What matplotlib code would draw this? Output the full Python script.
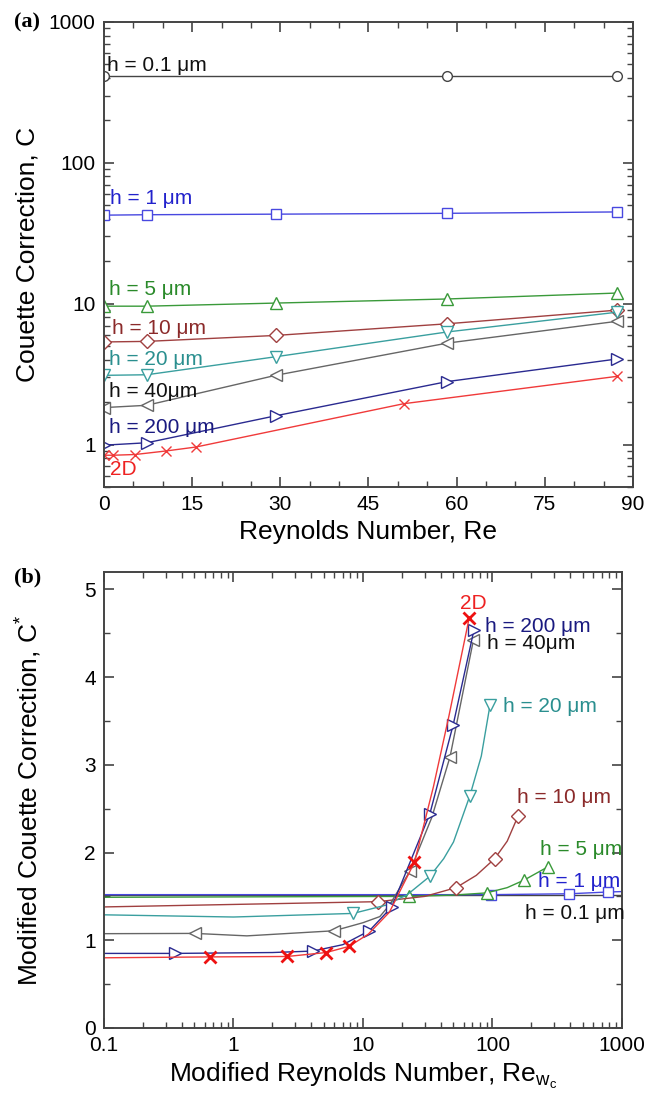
import matplotlib
matplotlib.use("Agg")
import matplotlib.pyplot as plt
from matplotlib.ticker import FixedLocator, MultipleLocator, LogLocator, NullFormatter

plt.rcParams["font.family"] = ["Liberation Sans", "DejaVu Sans"]
plt.rcParams["mathtext.fontset"] = "custom"
plt.rcParams["mathtext.rm"] = "Liberation Sans"
plt.rcParams["mathtext.it"] = "Liberation Sans"

# (a) Couette correction vs Reynolds number
re_a = [0, 7.3, 29.2, 58.4, 87.3]
re_h01 = [0, 58.4, 87.3]
c_h01 = [410, 410, 410]
c_h1 = [42.5, 42.8, 43.2, 43.8, 44.8]
c_h5 = [9.6, 9.6, 10.1, 10.8, 11.9]
c_h10 = [5.35, 5.4, 5.95, 7.2, 9.0]
c_h20 = [3.1, 3.13, 4.2, 6.3, 8.7]
c_h40 = [1.83, 1.9, 3.1, 5.25, 7.5]
c_h200 = [0.99, 1.03, 1.6, 2.8, 4.05]
re_2d = [0, 1.6, 5.3, 10.5, 15.6, 51, 87.3]
c_2d = [0.84, 0.84, 0.85, 0.9, 0.96, 1.95, 3.05]

# (b) modified correction vs modified Reynolds number (traced curve + marker indices)
rew_2d = [0.1, 0.66, 2.6, 5.2, 7.8, 11, 16, 25, 35, 46, 66]
cs_2d = [0.80, 0.81, 0.815, 0.86, 0.93, 1.07, 1.32, 1.89, 2.75, 3.55, 4.67]
mk_2d = [1, 2, 3, 4, 7, 10]
rew_h200 = [0.1, 0.353, 2, 4.13, 7, 11.2, 16.7, 32.9, 49.8, 72]
cs_h200 = [0.85, 0.85, 0.86, 0.877, 0.95, 1.108, 1.38, 2.445, 3.46, 4.54]
mk_h200 = [1, 3, 5, 6, 7, 8, 9]
rew_h40 = [0.1, 0.505, 1.27, 5.97, 10, 13.5, 16, 23.1, 34, 47, 71.2]
cs_h40 = [1.075, 1.078, 1.05, 1.108, 1.2, 1.27, 1.40, 1.79, 2.4, 3.09, 4.42]
mk_h40 = [1, 3, 7, 9, 10]
rew_h20 = [0.1, 1, 8.4, 15, 22, 32.9, 42, 50, 67, 82, 95.7]
cs_h20 = [1.29, 1.265, 1.306, 1.40, 1.52, 1.73, 1.93, 2.12, 2.65, 3.1, 3.68]
mk_h20 = [2, 5, 8, 10]
rew_h10 = [0.1, 13.1, 30, 52.4, 75, 104, 130, 158]
cs_h10 = [1.38, 1.44, 1.50, 1.60, 1.74, 1.93, 2.13, 2.42]
mk_h10 = [1, 3, 5, 7]
rew_h5 = [0.1, 22.6, 50, 90, 130, 175, 270]
cs_h5 = [1.49, 1.50, 1.515, 1.54, 1.6, 1.685, 1.84]
mk_h5 = [1, 3, 5, 6]
rew_h1 = [0.1, 97, 392, 774, 1000]
cs_h1 = [1.52, 1.52, 1.53, 1.55, 1.555]
mk_h1 = [1, 2, 3]
rew_h01 = [0.1, 1000]
cs_h01 = [1.515, 1.515]

COL = {
    "h01": "#444444", "h1": "#4848e0", "h5": "#3a9a3a", "h10": "#a04040",
    "h20": "#3a9f9f", "h40": "#666666", "h200": "#2a2a90", "2d": "#f03a3a",
}
TXT = {
    "h01": "#111111", "h1": "#2222cc", "h5": "#2a8a2a", "h10": "#8b2a2a",
    "h20": "#2a8f8f", "h40": "#111111", "h200": "#1a1a80", "2d": "#ee2222",
}
FS = 15


def style_axes(ax):
    for sp in ax.spines.values():
        sp.set_color("#444444")
        sp.set_linewidth(1.4)
    ax.tick_params(which="both", direction="in", top=True, right=True,
                   colors="#444444", labelcolor="black", labelsize=FS, pad=6)
    ax.tick_params(which="major", length=7, width=1.2)
    ax.tick_params(which="minor", length=4, width=1.0)


fig = plt.figure(figsize=(6.56, 11.02), dpi=100)

# ---------------- panel (a) ----------------
ax = fig.add_axes([0.1585, 0.5581, 0.8064, 0.422])
ax.set_yscale("log")
ax.set_xlim(0, 90)
ax.set_ylim(0.5, 1000)

mkw = dict(mfc="white", lw=1.0, mew=1.0)
ax.plot(re_h01, c_h01, "-o", color=COL["h01"], ms=7, **mkw)
ax.plot(re_a, c_h1, "-s", color=COL["h1"], ms=6.5, **mkw)
ax.plot(re_a, c_h5, "-^", color=COL["h5"], ms=8, **mkw)
ax.plot(re_a, c_h10, "-D", color=COL["h10"], ms=7, **mkw)
ax.plot(re_a, c_h20, "-v", color=COL["h20"], ms=8, **mkw)
ax.plot(re_a, c_h40, "-<", color=COL["h40"], ms=8, **mkw)
ax.plot(re_a, c_h200, "->", color=COL["h200"], ms=8, **mkw)
ax.plot(re_2d, c_2d, "-x", color=COL["2d"], ms=7, lw=1.0, mew=1.0)

ax.xaxis.set_major_locator(MultipleLocator(15))
ax.xaxis.set_minor_locator(MultipleLocator(5))
ax.yaxis.set_major_locator(FixedLocator([1, 10, 100, 1000]))
ax.set_yticklabels(["1", "10", "100", "1000"])
ax.yaxis.set_minor_locator(LogLocator(base=10, subs=range(2, 10)))
ax.yaxis.set_minor_formatter(NullFormatter())
style_axes(ax)
ax.set_xlabel("Reynolds Number, Re", fontsize=19, labelpad=4)
ax.set_ylabel("Couette Correction, C", fontsize=19, labelpad=7)

labels_a = [
    (0.5, 490, "h = 0.1 \u03bcm", "h01"),
    (1.0, 55.5, "h = 1 \u03bcm", "h1"),
    (0.85, 12.6, "h = 5 \u03bcm", "h5"),
    (1.3, 6.7, "h = 10 \u03bcm", "h10"),
    (0.85, 4.0, "h = 20 \u03bcm", "h20"),
    (0.85, 2.38, "h = 40\u03bcm", "h40"),
    (0.85, 1.32, "h = 200 \u03bcm", "h200"),
    (1.1, 0.665, "2D", "2d"),
]
for x, y, s, k in labels_a:
    ax.text(x, y, s, color=TXT[k], fontsize=FS, ha="left", va="center")
fig.text(0.022, 0.98, "(a)", fontsize=16, fontweight="bold",
         family="Liberation Serif", ha="left", va="center")

# ---------------- panel (b) ----------------
bx = fig.add_axes([0.1585, 0.0672, 0.7896, 0.4138])
bx.set_xscale("log")
bx.set_xlim(0.1, 1000)
bx.set_ylim(0, 5.2)

series_b = [
    (rew_h01, cs_h01, [], "o", "h01", 7),
    (rew_h1, cs_h1, mk_h1, "s", "h1", 6.5),
    (rew_h5, cs_h5, mk_h5, "^", "h5", 8),
    (rew_h10, cs_h10, mk_h10, "D", "h10", 7),
    (rew_h20, cs_h20, mk_h20, "v", "h20", 8),
    (rew_h40, cs_h40, mk_h40, "<", "h40", 8),
    (rew_h200, cs_h200, mk_h200, ">", "h200", 8),
]
for xs, ys, idx, m, k, ms in series_b:
    bx.plot(xs, ys, "-", color=COL[k], lw=1.0)
    if idx:
        bx.plot([xs[i] for i in idx], [ys[i] for i in idx], m, color=COL[k],
                ms=ms, mfc="white", mew=1.0, ls="none")
bx.plot(rew_2d, cs_2d, "-", color=COL["2d"], lw=1.0)
bx.plot([rew_2d[i] for i in mk_2d], [cs_2d[i] for i in mk_2d], "x",
        color="#ee1111", ms=8, mew=2.0, ls="none")

bx.yaxis.set_major_locator(MultipleLocator(1))
bx.yaxis.set_minor_locator(MultipleLocator(0.5))
bx.xaxis.set_major_locator(FixedLocator([0.1, 1, 10, 100, 1000]))
bx.set_xticklabels(["0.1", "1", "10", "100", "1000"])
bx.xaxis.set_minor_locator(LogLocator(base=10, subs=range(2, 10)))
bx.xaxis.set_minor_formatter(NullFormatter())
style_axes(bx)
bx.set_xlabel(r"Modified Reynolds Number, Re$_{w_c}$", fontsize=19, labelpad=4)
bx.set_ylabel(r"Modified Couette Correction, C$^{*}$", fontsize=19, labelpad=29)

labels_b = [
    (70.6, 4.84, "2D", "2d", "center"),
    (87.5, 4.58, "h = 200 \u03bcm", "h200", "left"),
    (91.2, 4.38, "h = 40\u03bcm", "h40", "left"),
    (121, 3.66, "h = 20 \u03bcm", "h20", "left"),
    (154, 2.63, "h = 10 \u03bcm", "h10", "left"),
    (233, 2.03, "h = 5 \u03bcm", "h5", "left"),
    (226, 1.67, "h = 1 \u03bcm", "h1", "left"),
    (178, 1.31, "h = 0.1 \u03bcm", "h01", "left"),
]
for x, y, s, k, ha in labels_b:
    bx.text(x, y, s, color=TXT[k], fontsize=FS, ha=ha, va="center")
fig.text(0.022, 0.476, "(b)", fontsize=16, fontweight="bold",
         family="Liberation Serif", ha="left", va="center")

fig.savefig("out.png", dpi=100)
